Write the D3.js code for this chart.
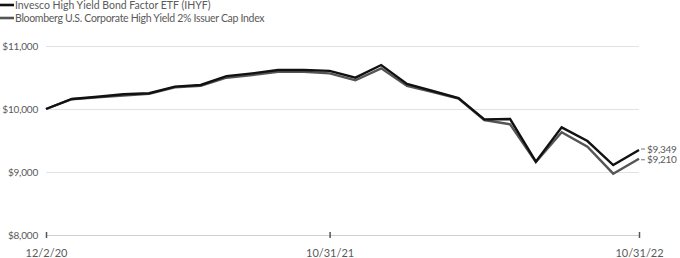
<!DOCTYPE html>
<html>
<head>
<meta charset="utf-8">
<script src="https://cdn.jsdelivr.net/npm/d3@7"></script>
<style>
  body { margin: 0; background: #fff; }
  text { font-family: Lato, "Open Sans", sans-serif; fill: #5a5a5a; }
</style>
</head>
<body>
<div id="viz"></div>
<script>
var width = 680,
  height = 258;

// data, monthly from 12/2/20 to 10/31/22
var dates = ['2020-12-02', '2020-12-31', '2021-01-31', '2021-02-28', '2021-03-31', '2021-04-30',
  '2021-05-31', '2021-06-30', '2021-07-31', '2021-08-31', '2021-09-30', '2021-10-31',
  '2021-11-30', '2021-12-31', '2022-01-31', '2022-02-28', '2022-03-31', '2022-04-30',
  '2022-05-31', '2022-06-30', '2022-07-31', '2022-08-31', '2022-09-30', '2022-10-31'];
var fundValues = [10000, 10159, 10195, 10233, 10250, 10355, 10381, 10522, 10566, 10619, 10619, 10606,
  10497, 10698, 10397, 10286, 10172, 9836, 9841, 9164, 9709, 9492, 9111, 9349];
var indexValues = [10000, 10155, 10185, 10215, 10240, 10345, 10370, 10497, 10540, 10592, 10592, 10566,
  10455, 10645, 10365, 10270, 10165, 9825, 9757, 9160, 9630, 9402, 8973, 9210];
var seriesNames = ['Invesco High Yield Bond Factor ETF (IHYF)', 'Bloomberg U.S. Corporate High Yield 2% Issuer Cap Index'];
var yTicks = [8000, 9000, 10000, 11000];
var xTickLabels = ['12/2/20', '10/31/21', '10/31/22'];
var xTickDates = ['2020-12-02', '2021-10-31', '2022-10-31'];

var colors = ['#111111', '#555555'];
var money = function (d) { return '$' + d3.format(',')(d); };

var svg = d3.select('#viz').append('svg')
  .attr('width', width)
  .attr('height', height);

// x positions are by month index, not by calendar days
var x = d3.scalePoint().domain(dates).range([46, 639]);
var y = d3.scaleLinear().domain([8000, 11000]).range([235, 46]);

// gridlines + y labels
var yAxis = d3.axisLeft(y).tickValues(yTicks)
  .tickSize(-(639 - 46))
  .tickPadding(8)
  .tickFormat(money);

var gy = svg.append('g').attr('transform', 'translate(46,0)').call(yAxis);
gy.select('.domain').remove();
gy.selectAll('.tick line').attr('stroke', '#e2e2e2').attr('stroke-width', 1);
gy.selectAll('.tick text').attr('font-size', 10).attr('x', -8).attr('fill', '#666')
  .attr('letter-spacing', -0.2);
gy.selectAll('.tick').filter(function (d) { return d === 8000; })
  .select('line').attr('stroke', '#cfcfcf');

// bottom ticks and labels
var xAxis = d3.axisBottom(x).tickValues(xTickDates)
  .tickSize(0)
  .tickPadding(14)
  .tickFormat(function (d, i) { return xTickLabels[i]; });
var gx = svg.append('g').attr('transform', 'translate(0,' + y(8000) + ')').call(xAxis);
gx.select('.domain').remove();
gx.selectAll('.tick text').attr('font-size', 11).attr('fill', '#666');
gx.selectAll('.tick').append('line')
  .attr('y1', -3).attr('y2', 3)
  .attr('stroke', '#555').attr('stroke-width', 1.5);

var line = d3.line()
  .x(function (d, i) { return x(dates[i]); })
  .y(function (d) { return y(d); });

var series = [fundValues, indexValues];

// index first so the fund sits on top
[1, 0].forEach(function (k) {
  svg.append('path')
    .datum(series[k])
    .attr('fill', 'none')
    .attr('stroke', colors[k])
    .attr('stroke-width', 2.4)
    .attr('stroke-linejoin', 'miter')
    .attr('d', line);
});

// end labels, nudged apart a little so they don't touch
series.forEach(function (s, k) {
  var v = s[s.length - 1];
  var yy = y(v) + (k === 0 ? -1 : 1);
  svg.append('line')
    .attr('x1', 641).attr('x2', 645)
    .attr('y1', yy).attr('y2', yy)
    .attr('stroke', '#777').attr('stroke-width', 1);
  svg.append('text')
    .attr('x', 647).attr('y', yy + 3.5)
    .attr('font-size', 10)
    .attr('letter-spacing', -0.3)
    .text(money(v));
});

// legend
var legend = svg.append('g');
seriesNames.forEach(function (name, k) {
  var ly = 5 + k * 13;
  legend.append('line')
    .attr('x1', 0).attr('x2', 14)
    .attr('y1', ly).attr('y2', ly)
    .attr('stroke', colors[k]).attr('stroke-width', 2.6);
  legend.append('text')
    .attr('x', 15).attr('y', ly + 4)
    .attr('font-size', 10.5)
    .attr('letter-spacing', k === 1 ? -0.3 : 0)
    .text(name);
});
</script>
</body>
</html>
